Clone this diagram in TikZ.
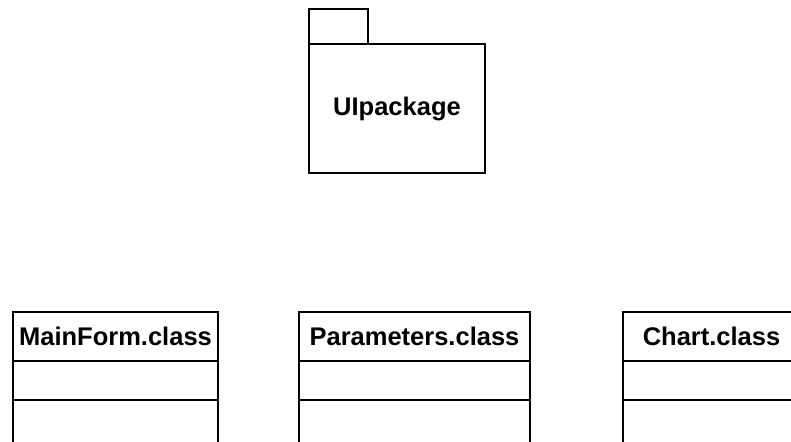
\documentclass[tikz,border=0pt]{standalone}
\usepackage{fontspec}
\setmainfont{Liberation Sans}
\usetikzlibrary{positioning}
\tikzset{%
    umlbox/.style={draw, line width=2pt, inner sep=0pt, outer sep=0pt},
    pkgbody/.style={umlbox, minimum width=176pt, minimum height=129pt,
        font=\fontsize{25.5}{30}\selectfont\bfseries},
    pkgtab/.style={umlbox, minimum width=59pt, minimum height=35pt, anchor=south west},
    classhead/.style={umlbox, minimum height=49pt,
        font=\fontsize{25.5}{30}\selectfont\bfseries},
    classpart/.style={umlbox, minimum height=#1}
}

\begin{document}
\begin{tikzpicture}[x=1pt,y=1pt]
    \useasboundingbox (0,0) rectangle (791,441);
    \clip (0,0) rectangle (791,441);
    % package with its tab
    \node[pkgbody] (pkg) at (397,332.5) {UIpackage};
    \node[pkgtab] (pkgtab) at (pkg.north west) {};
    % class boxes: name, attributes, operations
    \foreach \id/\cx/\w/\txt in {mainform/115.5/205/MainForm.class,
        params/414.5/231/Parameters.class, chart/711.5/177/Chart.class}
    {
    \node[classhead, minimum width=\w pt] (\id) at (\cx,104.5) {\txt};
    \node[classpart=39pt, minimum width=\w pt, below=0pt of \id] (\id-attr) {};
    \node[classpart=50pt, minimum width=\w pt, below=0pt of \id-attr] (\id-ops) {};
    }
\end{tikzpicture}
\end{document}
